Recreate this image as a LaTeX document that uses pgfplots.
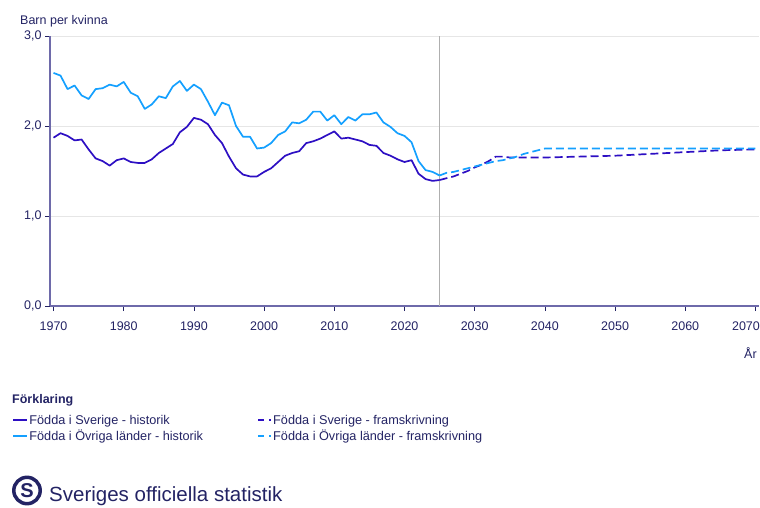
\documentclass[border=0pt]{standalone}
\usepackage{fontspec}
\setmainfont{Liberation Sans}
\usepackage{pgfplots}
\pgfplotsset{compat=1.18}
\definecolor{navy}{RGB}{35,35,100}
\definecolor{axiscol}{RGB}{110,106,170}
\definecolor{darkline}{RGB}{45,15,195}
\definecolor{lightline}{RGB}{20,160,255}
\definecolor{gridcol}{RGB}{230,230,230}
\definecolor{vlinecol}{RGB}{175,175,175}
\begin{document}
\begin{tikzpicture}[x=1pt,y=1pt]
\useasboundingbox (0pt,0pt) rectangle (760pt,507pt);
\begin{axis}[
  at={(50pt,201pt)}, anchor=south west,
  scale only axis, width=709pt, height=270pt,
  xmin=1969.5, xmax=2070.5, ymin=0, ymax=3,
  axis lines*=left,
  axis line style={axiscol, line width=1.2pt, -},
  tick align=outside, major tick length=5pt,
  tick style={navy, line width=0.8pt},
  xtick={1970,1980,...,2070}, ytick={0,1,2,3},
  xticklabels={1970,1980,1990,2000,2010,2020,2030,2040,2050,2060,{\hspace*{-19pt}2070}},
  yticklabel={\pgfmathprintnumber[fixed,fixed zerofill,precision=1,use comma,assume math mode=true]{\tick}},
  tick label style={font=\fontsize{12.5}{14}\selectfont, text=navy},
  xticklabel style={yshift=-7pt},
  ymajorgrids, grid style={gridcol, line width=1pt},
  ylabel={Barn per kvinna},
  ylabel style={rotate=-90, at={(axis description cs:-0.0423,1.0444)}, anchor=base west, font=\fontsize{12.5}{14}\selectfont, text=navy, inner sep=0pt},
  xlabel={År},
  xlabel style={at={(axis description cs:0.997,-0.1926)}, anchor=base east, font=\fontsize{12.5}{14}\selectfont, text=navy, inner sep=0pt},
  legend columns=2,
  legend style={at={(axis description cs:-0.0536,-0.397)}, anchor=north west,
    draw=none, fill=none, font=\fontsize{12.7}{14}\selectfont, text=navy,
    cells={anchor=west}, row sep=1.5pt, inner sep=0pt, nodes={inner sep=1.5pt},
    /tikz/every even column/.append style={column sep=53pt}},
  clip=false,
]
\addplot[vlinecol, line width=1pt, forget plot] coordinates {(2025,0) (2025,3)};

\addplot[darkline, line width=1.7pt, line join=round,
  legend image code/.code={\draw[darkline, line width=1.7pt] (0pt,0pt) -- (14pt,0pt);}]
  coordinates {
(1970,1.87) (1971,1.92) (1972,1.89) (1973,1.84) (1974,1.85) (1975,1.74)
(1976,1.64) (1977,1.61) (1978,1.56) (1979,1.62) (1980,1.64) (1981,1.60)
(1982,1.59) (1983,1.59) (1984,1.63) (1985,1.70) (1986,1.75) (1987,1.80)
(1988,1.93) (1989,1.99) (1990,2.09) (1991,2.07) (1992,2.02) (1993,1.90)
(1994,1.81) (1995,1.66) (1996,1.53) (1997,1.46) (1998,1.44) (1999,1.44)
(2000,1.49) (2001,1.53) (2002,1.60) (2003,1.67) (2004,1.70) (2005,1.72)
(2006,1.81) (2007,1.83) (2008,1.86) (2009,1.90) (2010,1.94) (2011,1.86)
(2012,1.87) (2013,1.85) (2014,1.83) (2015,1.79) (2016,1.78) (2017,1.70)
(2018,1.67) (2019,1.63) (2020,1.60) (2021,1.62) (2022,1.47) (2023,1.41)
(2024,1.39) (2025,1.40)
};
\addlegendentry{Födda i Sverige - historik}

\addplot[darkline, line width=1.7pt, dash pattern=on 8pt off 4pt,
  legend image code/.code={\draw[darkline, line width=1.7pt] (0pt,0pt) -- (6pt,0pt); \draw[darkline, line width=1.7pt] (11pt,0pt) -- (12.5pt,0pt);}]
  coordinates {
(2025,1.40) (2026,1.42) (2027,1.44) (2028,1.47) (2029,1.50) (2030,1.54)
(2031,1.57) (2032,1.61) (2033,1.66) (2034,1.66) (2035,1.65) (2040,1.65)
(2045,1.66) (2050,1.67) (2055,1.69) (2060,1.71) (2065,1.73) (2070,1.74)
};
\addlegendentry{Födda i Sverige - framskrivning}

\addplot[lightline, line width=1.7pt, line join=round,
  legend image code/.code={\draw[lightline, line width=1.7pt] (0pt,0pt) -- (14pt,0pt);}]
  coordinates {
(1970,2.59) (1971,2.56) (1972,2.41) (1973,2.45) (1974,2.34) (1975,2.30)
(1976,2.41) (1977,2.42) (1978,2.46) (1979,2.44) (1980,2.49) (1981,2.37)
(1982,2.33) (1983,2.19) (1984,2.24) (1985,2.33) (1986,2.31) (1987,2.44)
(1988,2.50) (1989,2.39) (1990,2.46) (1991,2.41) (1992,2.27) (1993,2.12)
(1994,2.26) (1995,2.23) (1996,2.00) (1997,1.88) (1998,1.88) (1999,1.75)
(2000,1.76) (2001,1.81) (2002,1.90) (2003,1.94) (2004,2.04) (2005,2.03)
(2006,2.07) (2007,2.16) (2008,2.16) (2009,2.06) (2010,2.12) (2011,2.02)
(2012,2.10) (2013,2.06) (2014,2.13) (2015,2.13) (2016,2.15) (2017,2.04)
(2018,1.99) (2019,1.92) (2020,1.89) (2021,1.82) (2022,1.61) (2023,1.51)
(2024,1.49) (2025,1.45)
};
\addlegendentry{Födda i Övriga länder - historik}

\addplot[lightline, line width=1.7pt, dash pattern=on 8pt off 4pt,
  legend image code/.code={\draw[lightline, line width=1.7pt] (0pt,0pt) -- (6pt,0pt); \draw[lightline, line width=1.7pt] (11pt,0pt) -- (12.5pt,0pt);}]
  coordinates {
(2025,1.45) (2026,1.48) (2027,1.49) (2028,1.51) (2029,1.53) (2030,1.55)
(2031,1.57) (2032,1.59) (2033,1.61) (2034,1.62) (2035,1.64) (2036,1.66)
(2037,1.69) (2038,1.71) (2039,1.73) (2040,1.75) (2045,1.75) (2050,1.75)
(2055,1.75) (2060,1.75) (2065,1.75) (2070,1.75)
};
\addlegendentry{Födda i Övriga länder - framskrivning}
\end{axis}
\node[anchor=base west, inner sep=0pt, text=navy, font=\fontsize{12.5}{14}\selectfont\bfseries] at (12pt,104pt) {Förklaring};
\draw[navy, line width=3.5pt] (27pt,16.5pt) circle (13.2pt);
\node[text=navy, inner sep=0pt, font=\fontsize{20}{20}\selectfont\bfseries] at (27pt,16.5pt) {S};
\node[anchor=base west, inner sep=0pt, text=navy, font=\fontsize{20.5}{24}\selectfont] at (49pt,5.5pt) {Sveriges officiella statistik};
\end{tikzpicture}
\end{document}
